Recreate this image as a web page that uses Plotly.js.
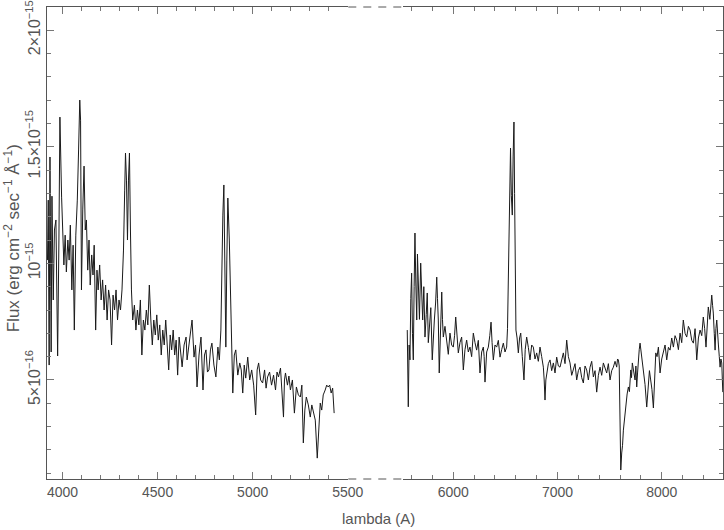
<!DOCTYPE html>
<html>
<head>
<meta charset="utf-8">
<script src="https://cdn.plot.ly/plotly-3.0.1.min.js"></script>
<style>html,body{margin:0;padding:0;background:#fff;}#chart{width:724px;height:530px;}</style>
</head>
<body>
<div id="chart"></div>
<script>
// Wavelengths in Angstrom, flux in units of 1e-16 erg cm^-2 s^-1 A^-1
const blueWave = [
 3920.5,3924.6,3929.4,3933.6,3939.9,3944.1,3950.9,3957.1,3965,3973.9,
 3980.7,3985.9,3994.8,4000,4006.8,4013.6,4019.9,4027.7,4034.5,4040.8,
 4048.6,4055.4,4061.7,4069.5,4077.4,4084.2,4090.4,4094.6,4099.3,4106.1,
 4112.9,4119.2,4125.4,4132.2,4139,4145.3,4153.2,4160,4166.2,4174,
 4180.9,4187.1,4195,4202.8,4210.6,4218.5,4226.3,4234.2,4242,4249.8,
 4257.7,4265.5,4273.4,4281.2,4289,4296.9,4304.7,4312.5,4320.4,4326.7,
 4330.9,4336.1,4341.3,4346.6,4351.8,4357,4362.2,4369,4377.9,4385.7,
 4393.6,4401.4,4409.3,4417.1,4425,4432.8,4440.6,4448.5,4456.3,4464.2,
 4472,4479.8,4487.7,4495.5,4503.4,4511.2,4519,4526.9,4534.7,4542.6,
 4550.4,4558.2,4566.1,4573.9,4581.8,4589.6,4597.4,4605.3,4613.1,4621,
 4628.8,4639.2,4649.7,4654.9,4665.4,4681.1,4691.5,4699.4,4707.2,4717.7,
 4728.1,4738.6,4746.4,4754.3,4762.1,4770,4777.8,4785.6,4796.1,4806.5,
 4817,4824.8,4832.7,4837.9,4843.1,4848.4,4853.6,4858.8,4864.1,4869.3,
 4877.1,4885,4890.2,4895.4,4903.3,4911.1,4921.6,4932,4939.9,4947.7,
 4955.6,4963.4,4973.9,4984.3,4994.8,5005.2,5015.7,5023.5,5031.3,5041.8,
 5052.3,5062.7,5070.5,5078.4,5088.9,5099.3,5109.8,5120.2,5128.1,5135.9,
 5146.4,5154.2,5162.1,5167.3,5172.5,5183,5190.7,5198.5,5209,5219.5,
 5230,5240.4,5250.8,5258.7,5266.5,5274.4,5282.2,5292.7,5303.1,5311,
 5318.8,5329.3,5339.7,5347.6,5355.4,5363.2,5371.1,5381.5,5389.4,5397.2,
 5405,5412.9,5420.7,5428.6
];
const blueFlux = [
 10.14,12.71,5.64,14.56,6.2,12.88,8.43,11.43,11.86,6.03,
 11.0,16.27,12.84,11.56,9.93,11.21,9.63,11.0,10.14,11.64,
 8.86,10.78,7.14,11.21,12.71,14.86,17.0,16.14,8.86,12.29,
 14.17,11.43,11.86,9.71,11.0,9.07,10.36,9.5,10.78,7.14,
 9.71,8.86,9.93,8.43,9.29,8.0,9.07,7.57,8.86,8.43,
 6.5,8.64,8.0,8.86,7.57,8.43,8.0,8.86,10.57,13.14,
 14.73,13.57,11.0,13.57,14.73,11.43,8.86,7.57,8.21,7.14,
 8.0,7.36,8.43,6.07,7.57,7.14,8.0,7.36,9.07,7.57,
 6.5,7.57,6.93,7.79,6.71,7.36,6.07,7.14,6.5,7.57,
 6.71,5.43,6.93,6.29,7.14,6.07,6.71,5.21,6.84,6.07,
 5.56,6.5,6.84,5.86,6.5,7.57,5.98,6.5,4.7,6.07,
 6.84,4.57,6.07,6.29,5.34,5.43,6.29,6.58,5.64,5.13,
 6.41,5.86,7.14,10.01,12.07,13.36,10.14,6.41,10.14,12.8,
 11.0,8.56,6.29,4.44,6.07,6.29,5.21,5.73,5.43,4.44,
 5.64,5.08,5.98,5.0,5.43,4.78,3.5,5.43,5.73,5.0,
 4.87,5.43,4.65,5.13,5.34,4.78,5.21,4.57,5.34,5.13,
 5.51,4.57,3.41,5.0,5.3,4.78,5.17,4.57,5.0,3.58,
 4.7,4.36,4.27,4.78,2.3,3.71,4.27,3.93,3.41,3.93,
 3.58,3.28,1.65,3.07,4.01,3.71,4.36,4.57,4.78,4.7,
 4.78,4.44,4.65,3.58
];
const redWave = [
 5558,5563,5568,5576,5584,5592,5600,5608,5616,5624,
 5632,5640,5649,5656,5664,5675,5687,5696,5706,5717,
 5728,5740,5750,5760,5770,5784,5798,5808,5818,5830,
 5841,5848,5856,5865,5877,5889,5896,5904,5920,5937,
 5952,5968,5984,6000,6012,6023,6036,6048,6064,6080,
 6088,6096,6112,6128,6144,6160,6176,6192,6208,6224,
 6240,6256,6272,6288,6296,6304,6320,6336,6350,6362,
 6372,6384,6400,6416,6432,6448,6464,6480,6496,6512,
 6520,6528,6538,6549,6557,6566,6574,6582,6588,6592,
 6601,6612,6624,6636,6647,6662,6678,6690,6704,6720,
 6736,6752,6768,6784,6800,6816,6832,6848,6864,6872,
 6880,6888,6896,6912,6928,6944,6960,6976,6992,7008,
 7024,7040,7056,7072,7088,7104,7120,7136,7152,7168,
 7184,7200,7216,7232,7248,7264,7280,7296,7312,7328,
 7344,7360,7376,7392,7408,7424,7440,7456,7472,7488,
 7504,7520,7536,7552,7568,7576,7584,7592,7600,7607,
 7616,7624,7632,7645,7657,7668,7680,7690,7703,7710,
 7718,7730,7744,7752,7760,7768,7776,7784,7792,7808,
 7824,7840,7856,7864,7872,7882,7894,7906,7920,7930,
 7943,7955,7968,7976,7984,8000,8016,8032,8048,8064,
 8080,8096,8112,8128,8144,8160,8176,8192,8207,8224,
 8240,8256,8272,8288,8304,8320,8336,8352,8368,8384,
 8399,8412,8425,8436,8447,8462,8480,8488,8495,8504,
 8512,8520,8528,8544,8560,8568,8576,8586
];
const redFlux = [
 7.14,4.5,3.85,6.5,5.86,8.5,9.58,7.0,5.86,9.0,
 11.3,9.2,7.57,10.4,8.98,7.6,10.01,8.6,7.57,9.0,
 6.84,7.8,8.73,6.6,7.14,8.1,5.86,6.9,7.57,8.3,
 9.41,8.5,7.57,5.3,7.0,8.77,7.6,6.84,7.3,6.58,
 6.1,7.01,6.5,6.41,6.9,7.7,6.7,6.16,6.6,6.84,
 6.2,5.43,6.3,6.71,6.2,6.41,6.0,7.01,6.6,6.28,
 6.7,5.3,6.2,6.41,6.0,4.91,6.2,6.41,6.9,7.48,
 6.6,5.86,6.5,6.41,6.7,5.98,6.3,6.58,6.2,6.41,
 7.2,8.98,12.5,14.94,12.9,12.07,14.6,16.06,13.0,10.57,
 7.14,6.8,6.16,6.8,7.01,6.0,5.0,6.3,6.84,6.4,
 5.86,6.5,6.41,5.9,6.16,5.8,6.41,6.0,5.55,5.0,
 4.14,5.0,5.3,5.7,5.86,5.4,5.73,5.3,5.98,5.6,
 5.55,5.9,6.16,5.7,6.71,6.0,5.73,5.2,5.43,5.7,
 5.0,5.4,5.55,5.1,4.87,5.6,5.43,5.0,5.55,5.8,
 5.13,5.4,4.48,5.2,5.55,5.2,5.73,5.5,5.3,5.7,
 5.0,5.4,5.55,5.8,5.55,5.9,5.86,5.6,3.28,1.14,
 1.87,2.2,2.85,3.5,3.84,4.4,4.7,4.5,5.43,5.1,
 5.73,5.4,5.0,5.6,4.7,5.3,5.98,6.3,6.58,6.0,
 5.3,4.8,3.84,4.5,4.7,5.4,5.0,4.6,3.8,5.2,
 6.16,6.0,6.41,5.9,5.3,5.9,6.16,6.5,5.86,6.4,
 6.28,6.8,6.41,6.9,6.71,6.3,7.01,6.6,7.57,7.0,
 6.84,7.3,7.14,6.7,6.58,7.2,5.86,6.8,7.14,6.9,
 7.7,7.2,6.41,7.5,8.13,7.6,8.64,8.2,7.87,7.0,
 6.28,7.2,7.57,6.5,5.55,5.9,5.73,4.48
];
const blueTicks = [4000, 4500, 5000, 5500];
const redTicks = [6000, 7000, 8000];
const fluxTicks = [5, 10, 15, 20];
const fluxTickText = ["5×10<sup>−16</sup>", "10<sup>−15</sup>", "1.5×10<sup>−15</sup>", "2×10<sup>−15</sup>"];
const xTitle = "lambda (A)";
const yTitle = "Flux (erg cm<sup>−2</sup> sec<sup>−1</sup> Å<sup>−1</sup>)";

const FONT = "Liberation Sans, Arial, sans-serif";
const axisColor = "#555";
const tickColor = "#777";
const lineStyle = {color: "#1a1a1a", width: 1};

const traces = [
  {x: blueWave, y: blueFlux, type: "scatter", mode: "lines", line: lineStyle, xaxis: "x", yaxis: "y", hoverinfo: "skip"},
  {x: redWave, y: redFlux, type: "scatter", mode: "lines", line: lineStyle, xaxis: "x2", yaxis: "y2", hoverinfo: "skip"}
];

const xCommon = {
  showgrid: false, zeroline: false, showline: true, linecolor: axisColor, linewidth: 1,
  mirror: "allticks", ticks: "inside", ticklen: 7, tickwidth: 1, tickcolor: tickColor,
  tickmode: "array", tickfont: {family: FONT, size: 14, color: "#555"}
};
const yRange = [0.755, 20.99];
const yCommon = {
  showgrid: false, zeroline: false, showline: true, linecolor: axisColor, linewidth: 1,
  ticks: "inside", ticklen: 7, tickwidth: 1, tickcolor: tickColor, range: yRange,
  tickmode: "array", tickvals: fluxTicks, ticktext: fluxTickText,
  minor: {tick0: 0, dtick: 1, ticks: "inside", ticklen: 4, tickcolor: tickColor, showgrid: false},
  tickfont: {family: FONT, size: 16, color: "#555"}, domain: [0, 1]
};

const dBlueEnd = 0.4457, dRedStart = 0.5266;
const layout = {
  width: 724, height: 530,
  margin: {l: 47, r: 1, t: 7, b: 51, pad: 0},
  paper_bgcolor: "#fff", plot_bgcolor: "#fff",
  showlegend: false,
  xaxis: Object.assign({}, xCommon, {
    domain: [0, dBlueEnd], range: [3918, 5503], anchor: "y",
    tickvals: blueTicks, ticktext: blueTicks.map(String),
    minor: {tick0: 0, dtick: 100, ticks: "inside", ticklen: 4, tickcolor: tickColor, showgrid: false}
  }),
  xaxis2: Object.assign({}, xCommon, {
    domain: [dRedStart, 1], range: [5517, 8588], anchor: "y2",
    tickvals: redTicks, ticktext: redTicks.map(String),
    minor: {tick0: 0, dtick: 200, ticks: "inside", ticklen: 4, tickcolor: tickColor, showgrid: false}
  }),
  yaxis: Object.assign({}, yCommon, {anchor: "x", side: "left", tickangle: -90}),
  yaxis2: Object.assign({}, yCommon, {anchor: "x2", side: "right", showticklabels: false}),
  shapes: [
    {type: "line", xref: "paper", yref: "paper", x0: dBlueEnd, x1: dRedStart, y0: 0, y1: 0,
     line: {color: axisColor, width: 1, dash: "8px,7px"}},
    {type: "line", xref: "paper", yref: "paper", x0: dBlueEnd, x1: dRedStart, y0: 1, y1: 1,
     line: {color: axisColor, width: 1, dash: "8px,7px"}}
  ],
  annotations: [
    {text: xTitle, xref: "paper", yref: "paper", x: 0.49, y: -0.0847, xanchor: "center", yanchor: "middle",
     showarrow: false, font: {family: FONT, size: 15, color: "#555"}},
    {text: yTitle, xref: "paper", yref: "paper", x: -0.0518, y: 0.51, xanchor: "center", yanchor: "middle",
     textangle: -90, showarrow: false, font: {family: FONT, size: 17, color: "#555"}}
  ]
};

Plotly.newPlot("chart", traces, layout, {staticPlot: true, displayModeBar: false});
</script>
</body>
</html>
